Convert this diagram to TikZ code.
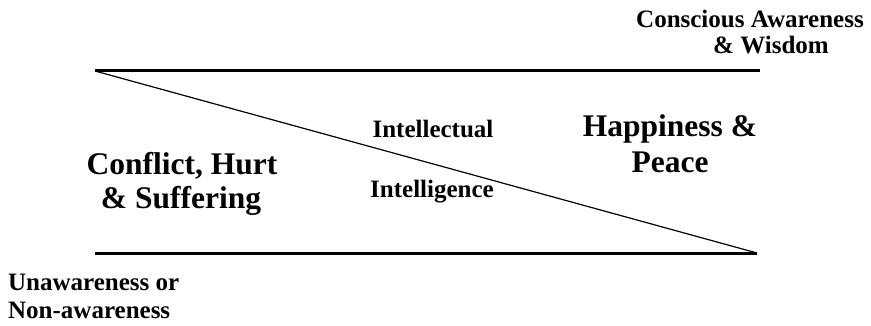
\documentclass[tikz,border=0pt]{standalone}
\usepackage{fontspec}
\setmainfont{Liberation Serif}
\usetikzlibrary{positioning}

\tikzset{
  small label/.style={font=\fontsize{25}{26}\selectfont\bfseries, inner sep=0pt, anchor=base},
  big label/.style={font=\fontsize{31.5}{33}\selectfont\bfseries, inner sep=0pt, anchor=base},
  level line/.style={line width=3pt},
  split line/.style={line width=1.2pt}
}

\begin{document}
\begin{tikzpicture}[x=1pt,y=-1pt]
    \useasboundingbox (0,0) rectangle (871,326);
    \coordinate (tl) at (95,71);
    \coordinate (tr) at (760,71);
    \coordinate (bl) at (95,253);
    \coordinate (br) at (757,253);
    \draw [level line] (tl) -- (tr);
    \draw [level line] (bl) -- (br);
    \draw [split line] (tl) -- (br);
    % top and bottom ends
    \node [small label] (aware1) at (750,28) {Conscious Awareness};
    \node [small label] (aware2) at (771,54) {\& Wisdom};
    \node [small label, anchor=base west] (unaware1) at (8,290) {Unawareness or};
    \node [small label, anchor=base west] (unaware2) at (8,318) {Non-awareness};
    % inside
    \node [big label] (conflict1) at (182,175) {Conflict, Hurt};
    \node [big label] (conflict2) at (181,208) {\& Suffering};
    \node [big label] (happy1) at (670,137) {Happiness \&};
    \node [big label] (happy2) at (670,173) {Peace};
    \node [small label] (intel1) at (433,138) {Intellectual};
    \node [small label] (intel2) at (432,198) {Intelligence};
  \end{tikzpicture}
\end{document}
